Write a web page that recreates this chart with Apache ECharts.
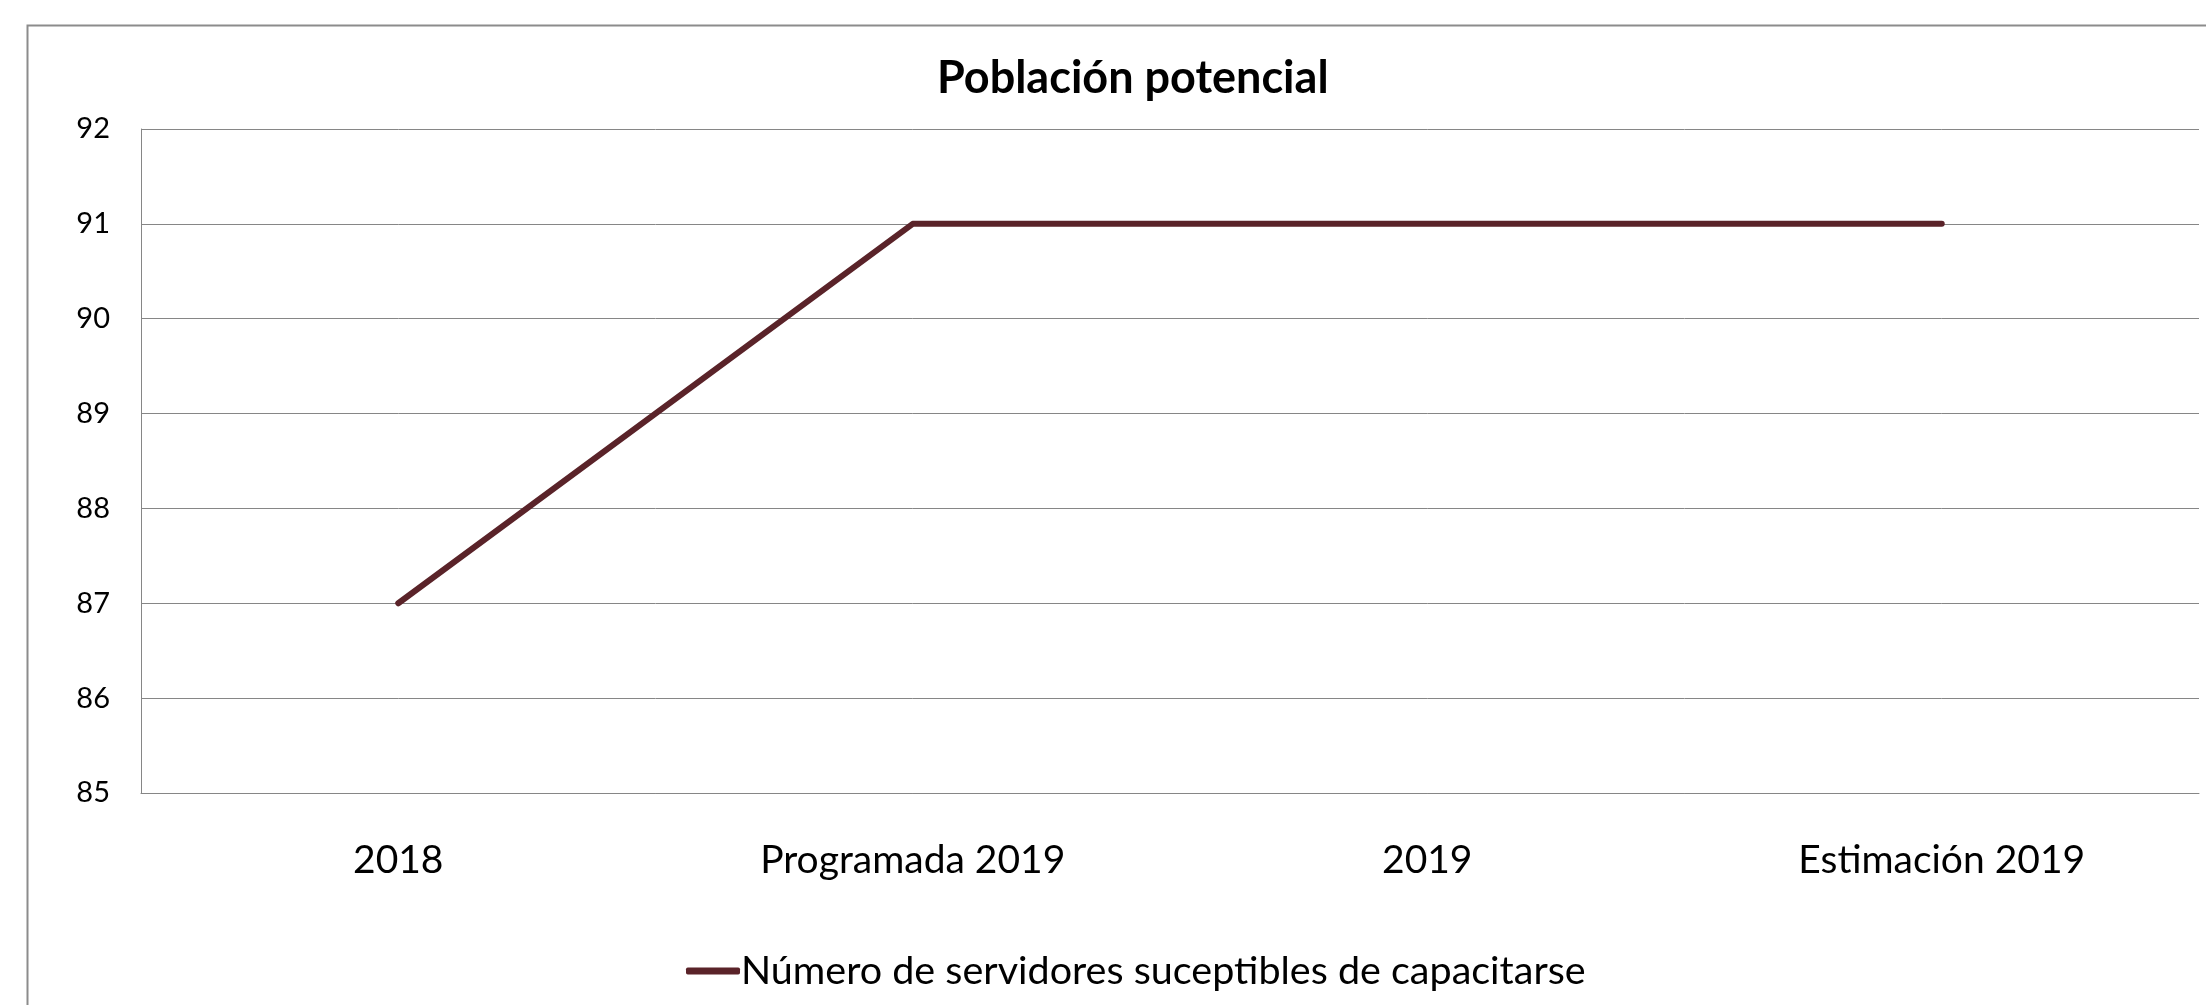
<!DOCTYPE html>
<html>
<head>
<meta charset="utf-8">
<title>Población potencial</title>
<script src="https://cdn.jsdelivr.net/npm/echarts@6/dist/echarts.min.js"></script>
<style>
  html, body { margin: 0; padding: 0; background: #fff; }
  #chart { width: 2206px; height: 1005px; }
</style>
</head>
<body>
<div id="chart"></div>
<script>
// datos del gráfico
const categorias = ['2018', 'Programada 2019', '2019', 'Estimación 2019']
const servidores = [87, 91, 91, 91]
const nombreSerie = 'Número de servidores suceptibles de capacitarse'
const ejeY = { min: 85, max: 92, intervalo: 1 }

const fuente = 'Lato, "Open Sans", sans-serif'
const myChart = echarts.init(document.getElementById('chart'))

myChart.setOption({
  backgroundColor: '#ffffff',
  animation: false,
  // marco exterior (cortado a la derecha y abajo)
  graphic: [{
    type: 'rect',
    left: 25,
    top: 23,
    shape: { width: 2400, height: 1200 },
    style: { fill: 'none', stroke: '#8c8c8c', lineWidth: 2 },
    silent: true
  }],
  title: {
    text: 'Población potencial',
    left: 932,
    top: 51,
    textStyle: {
      fontFamily: fuente,
      fontWeight: 'bold',
      fontSize: 45,
      color: '#000'
    }
  },
  legend: {
    left: 681,
    top: 946,
    itemWidth: 54,
    itemHeight: 7,
    itemGap: 10,
    icon: 'roundRect',
    textStyle: {
      fontFamily: fuente,
      fontSize: 39.5,
      color: '#000',
      padding: [0, 0, 0, -4]
    },
    data: [nombreSerie]
  },
  grid: {
    left: 141,
    right: 7,
    top: 129,
    bottom: 212,
    containLabel: false
  },
  xAxis: {
    type: 'category',
    data: categorias,
    boundaryGap: true,
    axisLine: { show: true, lineStyle: { color: '#868686', width: 1 } },
    axisTick: { show: false },
    axisLabel: {
      margin: 48,
      fontFamily: fuente,
      fontSize: 39,
      color: '#000'
    },
    splitLine: { show: false }
  },
  yAxis: {
    type: 'value',
    min: ejeY.min,
    max: ejeY.max,
    interval: ejeY.intervalo,
    axisLine: { show: true, lineStyle: { color: '#868686', width: 1 } },
    axisTick: { show: false },
    axisLabel: {
      margin: 31,
      fontFamily: fuente,
      fontSize: 29,
      color: '#000'
    },
    splitLine: { show: true, lineStyle: { color: '#868686', width: 1 } }
  },
  series: [{
    name: nombreSerie,
    type: 'line',
    data: servidores,
    showSymbol: false,
    symbol: 'none',
    lineStyle: { color: '#5a2329', width: 6, cap: 'round', join: 'round' },
    itemStyle: { color: '#5a2329' }
  }]
})
</script>
</body>
</html>
